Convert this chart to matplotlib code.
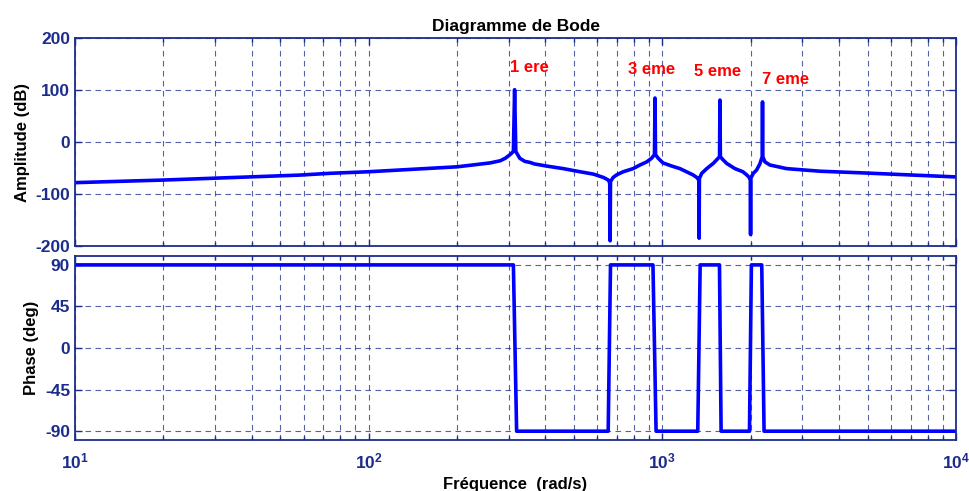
import math
import matplotlib
matplotlib.use("Agg")
import matplotlib.pyplot as plt
from matplotlib.ticker import FixedLocator, FuncFormatter, LogLocator, NullFormatter

plt.rcParams['font.family'] = ['Liberation Sans', 'DejaVu Sans']
plt.rcParams['mathtext.fontset'] = 'custom'
plt.rcParams['mathtext.rm'] = 'Liberation Sans:bold'
plt.rcParams['mathtext.bf'] = 'Liberation Sans:bold'
plt.rcParams['axes.unicode_minus'] = False

# Amplitude (dB) du correcteur multi-résonant
freq_amp = [10, 20, 58, 74, 100, 200, 226, 259, 280, 292, 303, 311, 314, 317,
            327, 340, 354, 367, 403, 460, 524, 582, 630, 655, 662, 664, 666,
            680, 699, 736, 795, 839, 885, 919, 940, 944, 948, 968,
            1005, 1076, 1148, 1271, 1310, 1331, 1334, 1337, 1362, 1416,
            1490, 1537, 1566, 1571, 1576, 1603, 1656, 1767, 1880, 1937,
            1977, 1994, 1997, 2000, 2040, 2092, 2148, 2188, 2193, 2198,
            2235, 2323, 2649, 3443, 4710, 10000]
amp_db = [-78, -73, -63.5, -60, -57, -47.5, -44, -40, -36, -31, -24, -18, 101, -18,
          -31, -37, -39, -42, -46, -51, -57, -61.5, -68, -73, -79, -190, -76,
          -68, -63, -57, -51, -44, -38, -31, -24, 85, -24, -31,
          -40, -46, -51, -63, -68, -73, -185, -70, -60, -51,
          -41, -33, -28, 81, -28, -33, -41, -51, -57, -63,
          -68, -73, -178, -70, -60, -54, -42, -28, 77.5, -28,
          -38, -44, -51, -56, -59, -67]

# Phase (deg)
freq_ph = [10, 311, 319, 654, 666, 929, 952, 1320, 1345, 1565, 1585,
           1980, 2010, 2180, 2220, 10000]
phase_deg = [90, 90, -90, -90, 90, 90, -90, -90, 90, 90, -90,
             -90, 90, 90, -90, -90]

# Étiquettes des harmoniques
harm_labels = ['1 ere', '3 eme', '5 eme', '7 eme']
harm_x = [303, 764, 1282, 2183]
harm_y = [144, 140, 136.5, 121]

navy = '#1c2c8c'
blue = '#0000ff'

fig = plt.figure(figsize=(9.7, 4.91), dpi=100)
ax1 = fig.add_axes([0.0773, 0.499, 0.9083, 0.423])
ax2 = fig.add_axes([0.0773, 0.103, 0.9083, 0.3763])


def style_axes(ax):
    ax.set_xscale('log')
    ax.set_xlim(10, 1e4)
    ax.xaxis.set_major_locator(LogLocator(base=10, numticks=10))
    ax.xaxis.set_minor_locator(LogLocator(base=10, subs=range(2, 10), numticks=20))
    ax.xaxis.set_minor_formatter(NullFormatter())
    ax.tick_params(which='both', direction='in', top=True, right=True,
                   colors=navy, labelsize=12.5, width=1)
    ax.tick_params(which='major', length=5)
    ax.tick_params(which='minor', length=3)
    for lbl in ax.get_yticklabels():
        lbl.set_fontweight('bold')
    for sp in ax.spines.values():
        sp.set_color(navy)
        sp.set_linewidth(1.3)
    ax.grid(True, which='major', color=navy, linestyle=(0, (5, 4)), linewidth=0.8, alpha=0.75)
    ax.grid(True, which='minor', axis='x', color=navy, linestyle=(0, (5, 4)), linewidth=0.8, alpha=0.75)


ax1.plot(freq_amp, amp_db, color=blue, linewidth=2.6)
ax1.set_ylim(-200, 200)
ax1.yaxis.set_major_locator(FixedLocator([-200, -100, 0, 100, 200]))
style_axes(ax1)
ax1.xaxis.set_major_formatter(NullFormatter())
ax1.set_ylabel('Amplitude (dB)', fontsize=12, fontweight='bold')
ax1.set_title('Diagramme de Bode', fontsize=12.5, fontweight='bold', pad=5)
for lab, hx, hy in zip(harm_labels, harm_x, harm_y):
    ax1.text(hx, hy, lab, color='red', fontsize=12, fontweight='bold',
             ha='left', va='center')

ax2.plot(freq_ph, phase_deg, color=blue, linewidth=2.6)
ax2.set_ylim(-100, 100)
ax2.yaxis.set_major_locator(FixedLocator([-90, -45, 0, 45, 90]))
style_axes(ax2)
ax2.xaxis.set_major_formatter(FuncFormatter(lambda v, p: r'$\mathbf{10^{%d}}$' % round(math.log10(v))))
ax2.tick_params(axis='x', which='major', pad=8)
ax2.set_ylabel('Phase (deg)', fontsize=12, fontweight='bold')
ax2.set_xlabel('Fréquence  (rad/s)', fontsize=12, fontweight='bold', labelpad=4)

fig.savefig('out.png', dpi=100)
